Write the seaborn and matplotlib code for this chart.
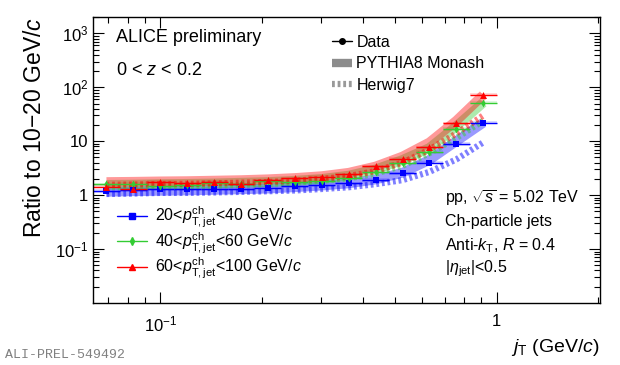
import numpy as np
import pandas as pd
import seaborn as sns
import matplotlib.pyplot as plt
from matplotlib.lines import Line2D
from matplotlib.ticker import LogLocator, NullFormatter

# jT bins (GeV/c), log-spaced
bin_lo = [0.0631, 0.0759, 0.0912, 0.1096, 0.1318, 0.1585, 0.1905, 0.2291,
          0.2754, 0.3311, 0.3981, 0.4786, 0.5754, 0.6918, 0.8318]
bin_hi = [0.0759, 0.0912, 0.1096, 0.1318, 0.1585, 0.1905, 0.2291, 0.2754,
          0.3311, 0.3981, 0.4786, 0.5754, 0.6918, 0.8318, 1.0]
jt = [0.0692, 0.0832, 0.1, 0.1202, 0.1445, 0.1738, 0.2089, 0.2512,
      0.302, 0.3631, 0.4365, 0.5248, 0.631, 0.7586, 0.912]

# data ratios
data_20_40 = [1.2, 1.25, 1.28, 1.28, 1.3, 1.3, 1.37, 1.45, 1.55, 1.65, 1.92, 2.55, 4.0, 8.9, 22]
data_40_60 = [1.6, 1.64, 1.5, 1.52, 1.68, 1.6, 1.8, 1.75, 1.85, 2.1, 2.7, 3.9, 6.3, 16.8, 52]
data_60_100 = [1.44, 1.3, 1.75, 1.67, 1.78, 1.6, 1.9, 2.05, 2.2, 2.45, 3.4, 4.7, 7.7, 21.5, 73]

# PYTHIA8 Monash
pythia_20_40 = [1.15, 1.18, 1.2, 1.22, 1.25, 1.28, 1.32, 1.4, 1.5, 1.65, 1.95, 2.6, 4.5, 10, 22]
pythia_40_60 = [1.55, 1.57, 1.6, 1.62, 1.65, 1.7, 1.75, 1.85, 2.0, 2.3, 3.0, 4.5, 7.5, 19, 52]
pythia_60_100 = [1.75, 1.77, 1.8, 1.82, 1.86, 1.9, 1.97, 2.08, 2.25, 2.6, 3.4, 5.2, 9.5, 24, 72]

# Herwig7
herwig_20_40 = [1.05, 1.07, 1.1, 1.1, 1.12, 1.15, 1.18, 1.22, 1.3, 1.4, 1.6, 1.9, 2.7, 4.6, 9.5]
herwig_40_60 = [1.4, 1.42, 1.45, 1.47, 1.5, 1.55, 1.6, 1.7, 1.85, 2.05, 2.5, 3.5, 6, 11.5, 24]
herwig_60_100 = [1.55, 1.57, 1.6, 1.62, 1.65, 1.7, 1.75, 1.85, 2.0, 2.25, 2.8, 4.0, 7, 14, 30]

labels = [r"20<$p_{\mathrm{T,jet}}^{\mathrm{ch}}$<40 GeV/$c$",
          r"40<$p_{\mathrm{T,jet}}^{\mathrm{ch}}$<60 GeV/$c$",
          r"60<$p_{\mathrm{T,jet}}^{\mathrm{ch}}$<100 GeV/$c$"]
colors = ["#0000ff", "#33cc33", "#ff0000"]
markers = ["s", "d", "^"]
msizes = [5, 4, 5]

sns.set_style("ticks")
plt.rcParams['font.family'] = ['Liberation Sans', 'DejaVu Sans']
plt.rcParams['mathtext.fontset'] = 'custom'
plt.rcParams['mathtext.rm'] = 'Liberation Sans'
plt.rcParams['mathtext.it'] = 'Liberation Sans:italic'
plt.rcParams['mathtext.bf'] = 'Liberation Sans:bold'
plt.rcParams['text.color'] = 'black'
plt.rcParams['axes.labelcolor'] = 'black'
plt.rcParams['xtick.color'] = 'black'
plt.rcParams['ytick.color'] = 'black'
plt.rcParams['axes.edgecolor'] = 'black'

fig = plt.figure(figsize=(6.2, 3.65), dpi=100)
ax = fig.add_axes([0.15, 0.17, 0.818, 0.783])

series = [(data_20_40, pythia_20_40, herwig_20_40),
          (data_40_60, pythia_40_60, herwig_40_60),
          (data_60_100, pythia_60_100, herwig_60_100)]

for i, (d, p, h) in enumerate(series):
    df = pd.DataFrame({"jt": jt, "data": d, "pythia": p, "herwig": h})
    sns.lineplot(data=df, x="jt", y="pythia", ax=ax, color=colors[i],
                 lw=7, alpha=0.4, solid_capstyle="butt")
    sns.lineplot(data=df, x="jt", y="herwig", ax=ax, color=colors[i],
                 lw=4.5, alpha=0.5, linestyle=(0, (0.45, 0.45)))

for i, (d, p, h) in enumerate(series):
    d = np.array(d)
    xerr = [np.array(jt) - np.array(bin_lo), np.array(bin_hi) - np.array(jt)]
    # systematic boxes
    for lo, hi, v in zip(bin_lo, bin_hi, d):
        ax.fill_between([lo, hi], v * 0.93, v * 1.07, color=colors[i], alpha=0.15, lw=0)
    ax.errorbar(jt, d, xerr=xerr, yerr=d * 0.02, fmt="none", ecolor=colors[i], elinewidth=1)
    sns.scatterplot(x=jt, y=d, ax=ax, color=colors[i], marker=markers[i],
                    s=msizes[i] ** 2, edgecolor=colors[i], linewidth=0, zorder=5)

ax.set_xscale("log")
ax.set_yscale("log")
ax.set_xlim(0.0631, 2.03)
ax.set_ylim(0.01, 2000)
ax.set_yticks([0.1, 1, 10, 100, 1000])
ax.set_yticklabels([r"$10^{-1}$", "1", "10", r"$10^{2}$", r"$10^{3}$"])
ax.set_xticks([0.1, 1])
ax.set_xticklabels([r"$10^{-1}$", "1"])
ax.yaxis.set_minor_locator(LogLocator(base=10, subs=np.arange(2, 10), numticks=30))
ax.yaxis.set_minor_formatter(NullFormatter())
ax.xaxis.set_minor_locator(LogLocator(base=10, subs=np.arange(2, 10), numticks=30))
ax.xaxis.set_minor_formatter(NullFormatter())
ax.tick_params(which="both", direction="in", top=True, right=True, labelsize=12)
ax.tick_params(which="major", length=8, width=0.8)
ax.tick_params(which="minor", length=4, width=0.8)
ax.tick_params(axis="x", pad=8)
for s in ax.spines.values():
    s.set_linewidth(1)

ax.set_ylabel(r"Ratio to 10$-$20 GeV/$c$", fontsize=16.5, loc="top", labelpad=6)
ax.set_xlabel(r"$j_{\mathrm{T}}$ (GeV/$c$)", fontsize=14, loc="right", labelpad=2)

ax.text(0.045, 0.93, "ALICE preliminary", transform=ax.transAxes, fontsize=13, va="center")
ax.text(0.045, 0.815, r"0 < $z$ < 0.2", transform=ax.transAxes, fontsize=13, va="center")

info = [r"pp, $\sqrt{s}$ = 5.02 TeV", "Ch-particle jets",
        r"Anti-$k_{\mathrm{T}}$, $R$ = 0.4", r"|$\eta_{\mathrm{jet}}$|<0.5"]
for k, t in enumerate(info):
    ax.text(0.695, 0.366 - k * 0.082, t, transform=ax.transAxes, fontsize=11.5, va="center")

h1 = [Line2D([], [], color="black", marker="o", ms=4, lw=1),
      Line2D([], [], color="grey", lw=6, alpha=0.9, solid_capstyle="butt"),
      Line2D([], [], color="grey", lw=4.5, alpha=0.8, linestyle=(0, (0.45, 0.45)))]
leg1 = ax.legend(h1, ["Data", "PYTHIA8 Monash", "Herwig7"], loc="upper left",
                 bbox_to_anchor=(0.458, 0.96), frameon=False, fontsize=11.5,
                 handlelength=1.25, handletextpad=0.3, labelspacing=0.4, borderaxespad=0)
ax.add_artist(leg1)

h2 = [Line2D([], [], color=colors[i], marker=markers[i], ms=msizes[i], lw=1)
      for i in range(3)]
ax.legend(h2, labels, loc="upper left", bbox_to_anchor=(0.035, 0.365), frameon=False,
          fontsize=11.5, handlelength=1.9, handletextpad=0.45, labelspacing=0.02,
          borderaxespad=0)

fig.text(0.008, 0.012, "ALI-PREL-549492", fontsize=9.5, color="grey",
         family=["Liberation Mono", "DejaVu Sans Mono"], va="bottom")

plt.savefig("out.png", dpi=100)
plt.close()
